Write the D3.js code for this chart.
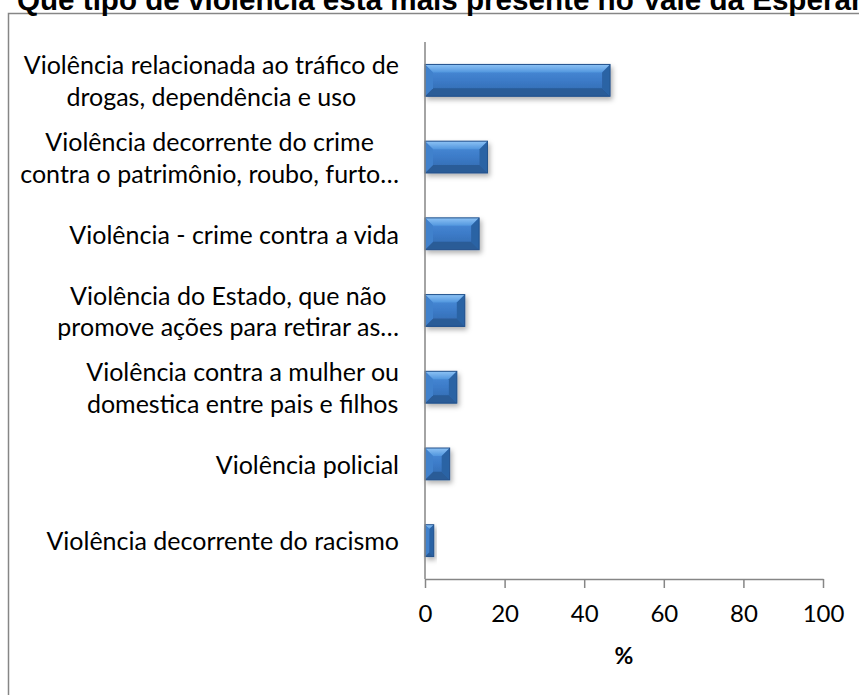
<!DOCTYPE html>
<html>
<head>
<meta charset="utf-8">
<script src="https://cdn.jsdelivr.net/npm/d3@7"></script>
<style>
  body { margin: 0; background: #fff; }
  svg { display: block; }
</style>
</head>
<body>
<svg id="chart"></svg>
<script>
// Data
const categories = [
    ["Violência relacionada ao tráfico de", "drogas, dependência e uso"],
    ["Violência decorrente do crime", "contra o patrimônio, roubo, furto…"],
    ["Violência - crime contra a vida"],
    ["Violência do Estado, que não", "promove ações para retirar as…"],
    ["Violência contra a mulher ou", "domestica entre pais e filhos"],
    ["Violência policial"],
    ["Violência decorrente do racismo"]
];
const values = [46.5, 15.7, 13.6, 10.0, 8.0, 6.2, 2.2];
const xTicks = [0, 20, 40, 60, 80, 100];
const titleText = "Que tipo de violência está mais presente no Vale da Esperança?";
const axisTitle = "%";

const width = 859;
const height = 695;
const margin = { top: 42, right: 36, bottom: 116, left: 425 };

const svg = d3.select("#chart")
    .attr("width", width)
    .attr("height", height);

const defs = svg.append("defs");

// bar gradients
const grad = defs.append("linearGradient")
    .attr("id", "barGrad").attr("x1", 0).attr("y1", 0).attr("x2", 0).attr("y2", 1);
grad.append("stop").attr("offset", "0%").attr("stop-color", "#4d8fdb");
grad.append("stop").attr("offset", "50%").attr("stop-color", "#3c7bc8");
grad.append("stop").attr("offset", "100%").attr("stop-color", "#3068ab");

const topGrad = defs.append("linearGradient")
    .attr("id", "topGrad").attr("x1", 0).attr("y1", 0).attr("x2", 0).attr("y2", 1);
topGrad.append("stop").attr("offset", "0%").attr("stop-color", "#8ec3f5");
topGrad.append("stop").attr("offset", "100%").attr("stop-color", "#5196de");

const shadow = defs.append("filter")
    .attr("id", "shadow").attr("x", "-20%").attr("y", "-20%").attr("width", "150%").attr("height", "160%");
shadow.append("feDropShadow")
    .attr("dx", 2).attr("dy", 3).attr("stdDeviation", 2.5)
    .attr("flood-color", "#000").attr("flood-opacity", 0.3);

// outer frame (cut off on right and bottom)
svg.append("rect")
    .attr("x", 8.5).attr("y", 13.5)
    .attr("width", 900).attr("height", 720)
    .attr("fill", "none")
    .attr("stroke", "#868686")
    .attr("stroke-width", 1.5);

// title, partly cut off at the top like in the source image
svg.append("text")
    .attr("x", 17).attr("y", 10)
    .style("font-family", "'Liberation Sans', Arial, sans-serif")
    .style("font-weight", "bold")
    .style("font-size", "29.6px")
    .style("fill", "#000")
    .text(titleText);

const x = d3.scaleLinear()
    .domain([0, 100])
    .range([margin.left, width - margin.right]);

const y = d3.scaleBand()
    .domain(d3.range(categories.length))
    .range([margin.top, height - margin.bottom])
    .paddingInner(0.585)
    .paddingOuter(0.2925);

const labelFont = "Lato, 'Open Sans', sans-serif";

// bars
const bevel = 8;
const bars = svg.append("g")
    .selectAll("g")
    .data(values)
    .join("g")
    .attr("filter", "url(#shadow)");

bars.each(function(v, i) {
    const g = d3.select(this);
    const x0 = x(0), x1 = x(v);
    const y0 = y(i), y1 = y(i) + y.bandwidth();
    const w = x1 - x0;
    const b = Math.min(bevel, w / 2, y.bandwidth() / 2);

    g.append("rect")
        .attr("x", x0).attr("y", y0)
        .attr("width", w).attr("height", y1 - y0)
        .attr("fill", "url(#barGrad)");

    // top bevel
    g.append("polygon")
        .attr("points", [[x0, y0], [x1, y0], [x1 - b, y0 + b], [x0 + b, y0 + b]].join(" "))
        .attr("fill", "url(#topGrad)");
    // bottom bevel
    g.append("polygon")
        .attr("points", [[x0, y1], [x1, y1], [x1 - b, y1 - b], [x0 + b, y1 - b]].join(" "))
        .attr("fill", "#2a5b97");
    // left bevel
    g.append("polygon")
        .attr("points", [[x0, y0], [x0 + b, y0 + b], [x0 + b, y1 - b], [x0, y1]].join(" "))
        .attr("fill", "#4081cc");
    // right bevel
    g.append("polygon")
        .attr("points", [[x1, y0], [x1 - b, y0 + b], [x1 - b, y1 - b], [x1, y1]].join(" "))
        .attr("fill", "#2c63a4");

    g.append("rect")
        .attr("x", x0).attr("y", y0)
        .attr("width", w).attr("height", y1 - y0)
        .attr("fill", "none")
        .attr("stroke", "#24528c")
        .attr("stroke-width", 1);
});

// category labels: lines centred on each other, block right aligned
const labelRight = 399;
const lineHeight = 31.5;
const labels = svg.append("g")
    .selectAll("text")
    .data(categories)
    .join("text")
    .style("font-family", labelFont)
    .style("font-size", "25px")
    .style("fill", "#000")
    .attr("text-anchor", "middle");

labels.each(function(lines, i) {
    const t = d3.select(this);
    const cy = y(i) + y.bandwidth() / 2 + 1;
    const top = cy - (lines.length - 1) * lineHeight / 2;
    lines.forEach((line, k) => {
        t.append("tspan")
            .attr("y", top + k * lineHeight)
            .attr("dy", "0.35em")
            .text(line);
    });
    let maxW = 0;
    t.selectAll("tspan").each(function() {
        maxW = Math.max(maxW, this.getComputedTextLength());
    });
    t.selectAll("tspan").attr("x", labelRight - maxW / 2);
});

// y axis line
svg.append("line")
    .attr("x1", x(0)).attr("x2", x(0))
    .attr("y1", margin.top).attr("y2", height - margin.bottom)
    .attr("stroke", "#868686")
    .attr("stroke-width", 1.5);

// x axis
const xAxis = svg.append("g")
    .attr("transform", `translate(0, ${height - margin.bottom})`)
    .call(d3.axisBottom(x).tickValues(xTicks).tickSize(9).tickPadding(17).tickSizeOuter(0));

xAxis.select(".domain").attr("stroke", "#868686").attr("stroke-width", 1.5);
xAxis.selectAll(".tick line").attr("stroke", "#868686").attr("stroke-width", 1.5);
xAxis.selectAll(".tick text")
    .style("font-family", labelFont)
    .style("font-size", "24px")
    .style("fill", "#000");

svg.append("text")
    .attr("x", (x(0) + x(100)) / 2)
    .attr("y", 664)
    .attr("text-anchor", "middle")
    .style("font-family", labelFont)
    .style("font-weight", "bold")
    .style("font-size", "23px")
    .style("fill", "#000")
    .text(axisTitle);
</script>
</body>
</html>
